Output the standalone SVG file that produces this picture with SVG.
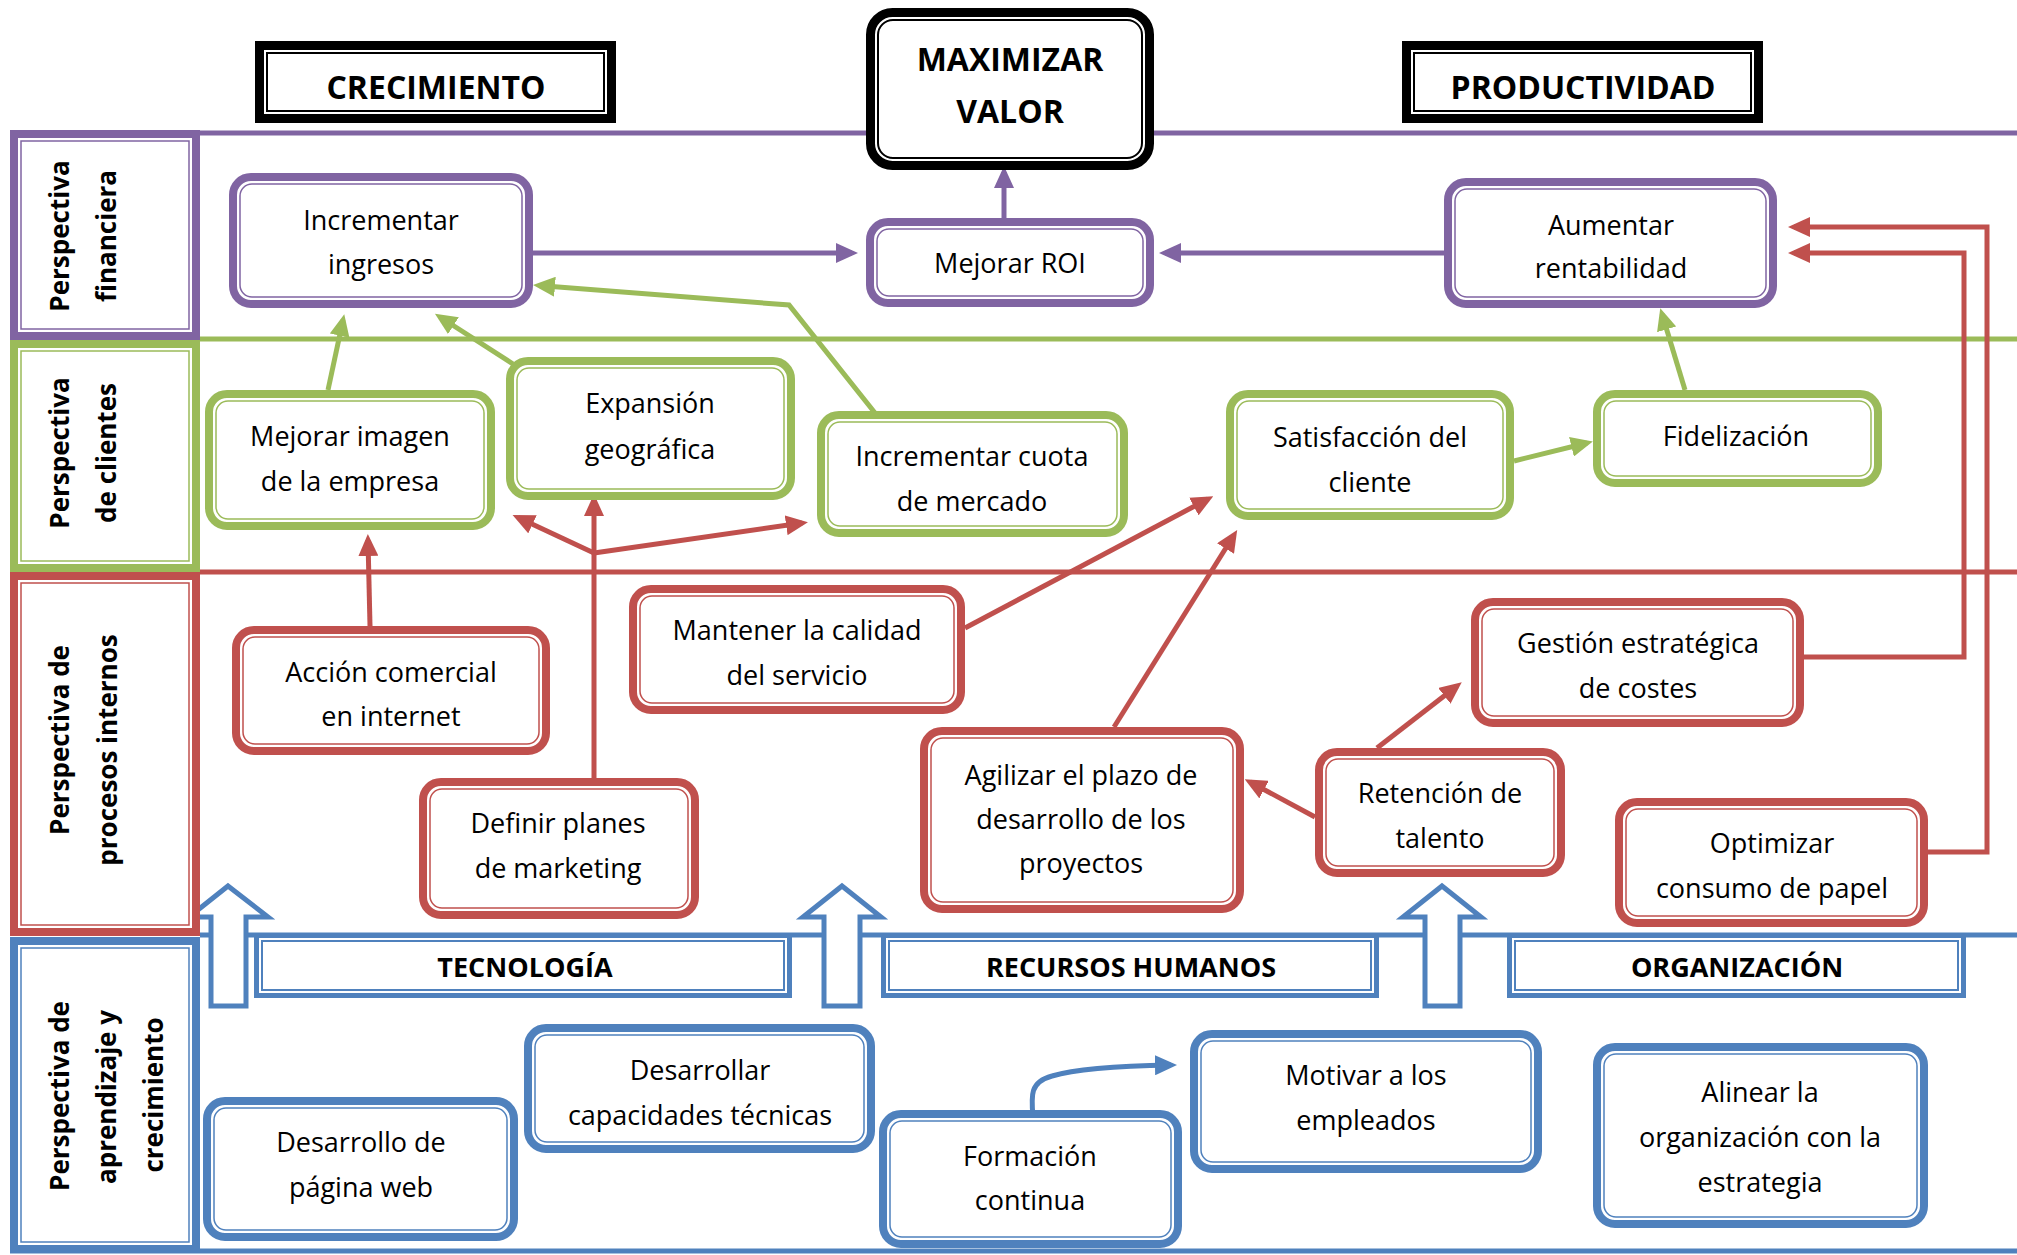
<svg xmlns="http://www.w3.org/2000/svg" width="2017" height="1255" viewBox="0 0 2017 1255">
<style>
.t{font-family:"Open Sans","Liberation Sans",sans-serif;font-size:27px;fill:#000;text-anchor:middle}
.hb{font-weight:bold;font-size:32px}
.lb{font-weight:bold;font-size:26px}
.cb{font-weight:bold;font-size:27px}
.op{fill:#fff;stroke:#8064A2;stroke-width:8}
.ip{fill:none;stroke:#8064A2;stroke-width:1.5}
.og{fill:#fff;stroke:#9BBB59;stroke-width:8}
.ig{fill:none;stroke:#9BBB59;stroke-width:1.5}
.or{fill:#fff;stroke:#C0504D;stroke-width:8}
.ir{fill:none;stroke:#C0504D;stroke-width:1.5}
.ob{fill:#fff;stroke:#4F81BD;stroke-width:8}
.ib{fill:none;stroke:#4F81BD;stroke-width:1.5}
.ok{fill:#fff;stroke:#000;stroke-width:9}
.ik{fill:none;stroke:#000;stroke-width:2}
.bar{fill:#fff;stroke:#4F81BD;stroke-width:5}
.bari{fill:none;stroke:#4F81BD;stroke-width:2}
.lane{stroke-width:5;fill:none}
.c{fill:none;stroke-width:5;stroke-linejoin:miter}
.cp{stroke:#8064A2;marker-end:url(#mp)}
.cg{stroke:#9BBB59;marker-end:url(#mg)}
.cr{stroke:#C0504D;marker-end:url(#mr)}
.crn{stroke:#C0504D}
.cbl{stroke:#4F81BD;marker-end:url(#mb)}
.blk{fill:#fff;stroke:#4F81BD;stroke-width:5;stroke-linejoin:miter}
</style>
<defs>
<marker id="mp" markerUnits="userSpaceOnUse" markerWidth="22" markerHeight="20" refX="16" refY="10" orient="auto" viewBox="0 0 22 20"><path d="M0,0 L22,10 L0,20 z" fill="#8064A2"/></marker>
<marker id="mg" markerUnits="userSpaceOnUse" markerWidth="22" markerHeight="20" refX="16" refY="10" orient="auto" viewBox="0 0 22 20"><path d="M0,0 L22,10 L0,20 z" fill="#9BBB59"/></marker>
<marker id="mr" markerUnits="userSpaceOnUse" markerWidth="22" markerHeight="20" refX="16" refY="10" orient="auto" viewBox="0 0 22 20"><path d="M0,0 L22,10 L0,20 z" fill="#C0504D"/></marker>
<marker id="mb" markerUnits="userSpaceOnUse" markerWidth="22" markerHeight="20" refX="16" refY="10" orient="auto" viewBox="0 0 22 20"><path d="M0,0 L22,10 L0,20 z" fill="#4F81BD"/></marker>
</defs>
<rect x="0" y="0" width="2017" height="1255" fill="#fff"/>
<g id="lanes">
<line class="lane" x1="200" y1="133" x2="2017" y2="133" stroke="#8064A2"/>
<line class="lane" x1="200" y1="339" x2="2017" y2="339" stroke="#9BBB59"/>
<line class="lane" x1="200" y1="572" x2="2017" y2="572" stroke="#C0504D"/>
<line class="lane" x1="200" y1="935" x2="2017" y2="935" stroke="#4F81BD"/>
<line class="lane" x1="10" y1="1251" x2="2017" y2="1251" stroke="#4F81BD"/>
</g>
<g id="block-arrows">
<polygon class="blk" points="228,886 268,917 246,917 246,1006 211,1006 211,917 189,917"/>
<polygon class="blk" points="842,886 881,917 860,917 860,1006 824,1006 824,917 803,917"/>
<polygon class="blk" points="1442,886 1481,917 1460,917 1460,1006 1425,1006 1425,917 1403,917"/>
</g>
<g id="connectors">
<line class="c cp" x1="533" y1="253" x2="852" y2="253"/>
<line class="c cp" x1="1444" y1="253" x2="1165" y2="253"/>
<line class="c cp" x1="1004" y1="218" x2="1004" y2="172"/>
<line class="c cg" x1="328" y1="390" x2="343" y2="320"/>
<line class="c cg" x1="513" y1="364" x2="440" y2="317"/>
<polyline class="c cg" points="879,418 789,305 539,285.5"/>
<line class="c cg" x1="1514" y1="461" x2="1587" y2="443"/>
<line class="c cg" x1="1685" y1="390" x2="1662" y2="314"/>
<line class="c cr" x1="370" y1="626" x2="368" y2="540"/>
<line class="c cr" x1="594" y1="778" x2="594" y2="500"/>
<line class="c cr" x1="594" y1="553" x2="518" y2="517.5"/>
<line class="c cr" x1="594" y1="553" x2="802" y2="523"/>
<line class="c cr" x1="965" y1="628" x2="1208" y2="499"/>
<line class="c cr" x1="1114" y1="727" x2="1234" y2="535"/>
<line class="c cr" x1="1315" y1="817" x2="1250" y2="782"/>
<line class="c cr" x1="1377" y1="748" x2="1457" y2="686"/>
<polyline class="c cr" points="1804,657 1964,657 1964,253 1794,253"/>
<polyline class="c cr" points="1928,852 1987,852 1987,227 1794,227"/>
<path class="c cbl" d="M1033,1117 C1031,1095 1030,1082 1052,1076 C1075,1069 1110,1066 1171,1065"/>
</g>
<g id="h-crecimiento"><rect class="ok" x="259.5" y="45.5" width="352" height="73"/><rect class="ik" x="267" y="53" width="337" height="58"/><text class="t hb" x="436" y="99">CRECIMIENTO</text></g>
<g id="h-maximizar"><rect class="ok" x="870.5" y="12.5" width="279" height="153" rx="22"/><rect class="ik" x="878" y="20" width="264" height="138" rx="15"/><text class="t hb" x="1010" y="71">MAXIMIZAR</text><text class="t hb" x="1010" y="123">VALOR</text></g>
<g id="h-productividad"><rect class="ok" x="1406.5" y="45.5" width="352" height="73"/><rect class="ik" x="1414" y="53" width="337" height="58"/><text class="t hb" x="1583" y="99">PRODUCTIVIDAD</text></g>
<g id="l-financiera"><rect class="op" x="14" y="134" width="182" height="202"/><rect class="ip" x="21" y="141" width="168" height="188"/><text class="t lb" transform="translate(69,236) rotate(-90)">Perspectiva</text><text class="t lb" transform="translate(116,236) rotate(-90)">financiera</text></g>
<g id="l-clientes"><rect class="og" x="14" y="344" width="182" height="224"/><rect class="ig" x="21" y="351" width="168" height="210"/><text class="t lb" transform="translate(69,453) rotate(-90)">Perspectiva</text><text class="t lb" transform="translate(116,453) rotate(-90)">de clientes</text></g>
<g id="l-procesos"><rect class="or" x="14" y="576" width="182" height="356"/><rect class="ir" x="21" y="583" width="168" height="342"/><text class="t lb" transform="translate(69,740) rotate(-90)">Perspectiva de</text><text class="t lb" transform="translate(117,750) rotate(-90)">procesos internos</text></g>
<g id="l-aprendizaje"><rect class="ob" x="14" y="941" width="182" height="308"/><rect class="ib" x="21" y="948" width="168" height="294"/><text class="t lb" transform="translate(69,1096) rotate(-90)">Perspectiva de</text><text class="t lb" transform="translate(116,1097) rotate(-90)">aprendizaje y</text><text class="t lb" transform="translate(163,1095) rotate(-90)">crecimiento</text></g>
<g id="n-incrementar-ingresos"><rect class="op" x="233" y="177" width="296" height="127" rx="18"/><rect class="ip" x="240" y="184" width="282" height="113" rx="12"/><text class="t" x="381" y="230">Incrementar</text><text class="t" x="381" y="274">ingresos</text></g>
<g id="n-mejorar-roi"><rect class="op" x="870" y="222" width="280" height="81" rx="18"/><rect class="ip" x="877" y="229" width="266" height="67" rx="12"/><text class="t" x="1010" y="273">Mejorar ROI</text></g>
<g id="n-aumentar"><rect class="op" x="1448" y="182" width="325" height="122" rx="18"/><rect class="ip" x="1455" y="189" width="311" height="108" rx="12"/><text class="t" x="1611" y="235">Aumentar</text><text class="t" x="1611" y="278">rentabilidad</text></g>
<g id="n-mejorar-imagen"><rect class="og" x="209" y="394" width="282" height="132" rx="18"/><rect class="ig" x="216" y="401" width="268" height="118" rx="12"/><text class="t" x="350" y="446">Mejorar imagen</text><text class="t" x="350" y="491">de la empresa</text></g>
<g id="n-expansion"><rect class="og" x="510" y="361" width="281" height="135" rx="18"/><rect class="ig" x="517" y="368" width="267" height="121" rx="12"/><text class="t" x="650" y="413">Expansión</text><text class="t" x="650" y="459">geográfica</text></g>
<g id="n-cuota"><rect class="og" x="821" y="415" width="303" height="118" rx="18"/><rect class="ig" x="828" y="422" width="289" height="104" rx="12"/><text class="t" x="972" y="466">Incrementar cuota</text><text class="t" x="972" y="511">de mercado</text></g>
<g id="n-satisfaccion"><rect class="og" x="1230" y="394" width="280" height="122" rx="18"/><rect class="ig" x="1237" y="401" width="266" height="108" rx="12"/><text class="t" x="1370" y="447">Satisfacción del</text><text class="t" x="1370" y="492">cliente</text></g>
<g id="n-fidelizacion"><rect class="og" x="1597" y="394" width="281" height="89" rx="18"/><rect class="ig" x="1604" y="401" width="267" height="75" rx="12"/><text class="t" x="1736" y="446">Fidelización</text></g>
<g id="n-accion"><rect class="or" x="236" y="630" width="310" height="121" rx="18"/><rect class="ir" x="243" y="637" width="296" height="107" rx="12"/><text class="t" x="391" y="682">Acción comercial</text><text class="t" x="391" y="726">en internet</text></g>
<g id="n-definir"><rect class="or" x="423" y="782" width="272" height="133" rx="18"/><rect class="ir" x="430" y="789" width="258" height="119" rx="12"/><text class="t" x="558" y="833">Definir planes</text><text class="t" x="558" y="878">de marketing</text></g>
<g id="n-mantener"><rect class="or" x="633" y="589" width="328" height="121" rx="18"/><rect class="ir" x="640" y="596" width="314" height="107" rx="12"/><text class="t" x="797" y="640">Mantener la calidad</text><text class="t" x="797" y="685">del servicio</text></g>
<g id="n-agilizar"><rect class="or" x="924" y="731" width="316" height="178" rx="18"/><rect class="ir" x="931" y="738" width="302" height="164" rx="12"/><text class="t" x="1081" y="785">Agilizar el plazo de</text><text class="t" x="1081" y="829">desarrollo de los</text><text class="t" x="1081" y="873">proyectos</text></g>
<g id="n-retencion"><rect class="or" x="1319" y="752" width="242" height="121" rx="18"/><rect class="ir" x="1326" y="759" width="228" height="107" rx="12"/><text class="t" x="1440" y="803">Retención de</text><text class="t" x="1440" y="848">talento</text></g>
<g id="n-gestion"><rect class="or" x="1475" y="602" width="325" height="121" rx="18"/><rect class="ir" x="1482" y="609" width="311" height="107" rx="12"/><text class="t" x="1638" y="653">Gestión estratégica</text><text class="t" x="1638" y="698">de costes</text></g>
<g id="n-optimizar"><rect class="or" x="1619" y="802" width="305" height="121" rx="18"/><rect class="ir" x="1626" y="809" width="291" height="107" rx="12"/><text class="t" x="1772" y="853">Optimizar</text><text class="t" x="1772" y="898">consumo de papel</text></g>
<g id="b-tecnologia"><rect class="bar" x="256.5" y="935.5" width="533" height="60"/><rect class="bari" x="262" y="941" width="522" height="49"/><text class="t cb" x="525" y="977">TECNOLOGÍA</text></g>
<g id="b-rrhh"><rect class="bar" x="883.5" y="935.5" width="493" height="60"/><rect class="bari" x="889" y="941" width="482" height="49"/><text class="t cb" x="1131" y="977">RECURSOS HUMANOS</text></g>
<g id="b-organizacion"><rect class="bar" x="1509.5" y="935.5" width="454" height="60"/><rect class="bari" x="1515" y="941" width="443" height="49"/><text class="t cb" x="1737" y="977">ORGANIZACIÓN</text></g>
<g id="n-web"><rect class="ob" x="207" y="1101" width="307" height="136" rx="18"/><rect class="ib" x="214" y="1108" width="293" height="122" rx="12"/><text class="t" x="361" y="1152">Desarrollo de</text><text class="t" x="361" y="1197">página web</text></g>
<g id="n-capacidades"><rect class="ob" x="528" y="1028" width="343" height="121" rx="18"/><rect class="ib" x="535" y="1035" width="329" height="107" rx="12"/><text class="t" x="700" y="1080">Desarrollar</text><text class="t" x="700" y="1125">capacidades técnicas</text></g>
<g id="n-formacion"><rect class="ob" x="883" y="1114" width="295" height="130" rx="18"/><rect class="ib" x="890" y="1121" width="281" height="116" rx="12"/><text class="t" x="1030" y="1166">Formación</text><text class="t" x="1030" y="1210">continua</text></g>
<g id="n-motivar"><rect class="ob" x="1194" y="1034" width="344" height="135" rx="18"/><rect class="ib" x="1201" y="1041" width="330" height="121" rx="12"/><text class="t" x="1366" y="1085">Motivar a los</text><text class="t" x="1366" y="1130">empleados</text></g>
<g id="n-alinear"><rect class="ob" x="1597" y="1047" width="327" height="177" rx="18"/><rect class="ib" x="1604" y="1054" width="313" height="163" rx="12"/><text class="t" x="1760" y="1102">Alinear la</text><text class="t" x="1760" y="1147">organización con la</text><text class="t" x="1760" y="1192">estrategia</text></g>
</svg>
